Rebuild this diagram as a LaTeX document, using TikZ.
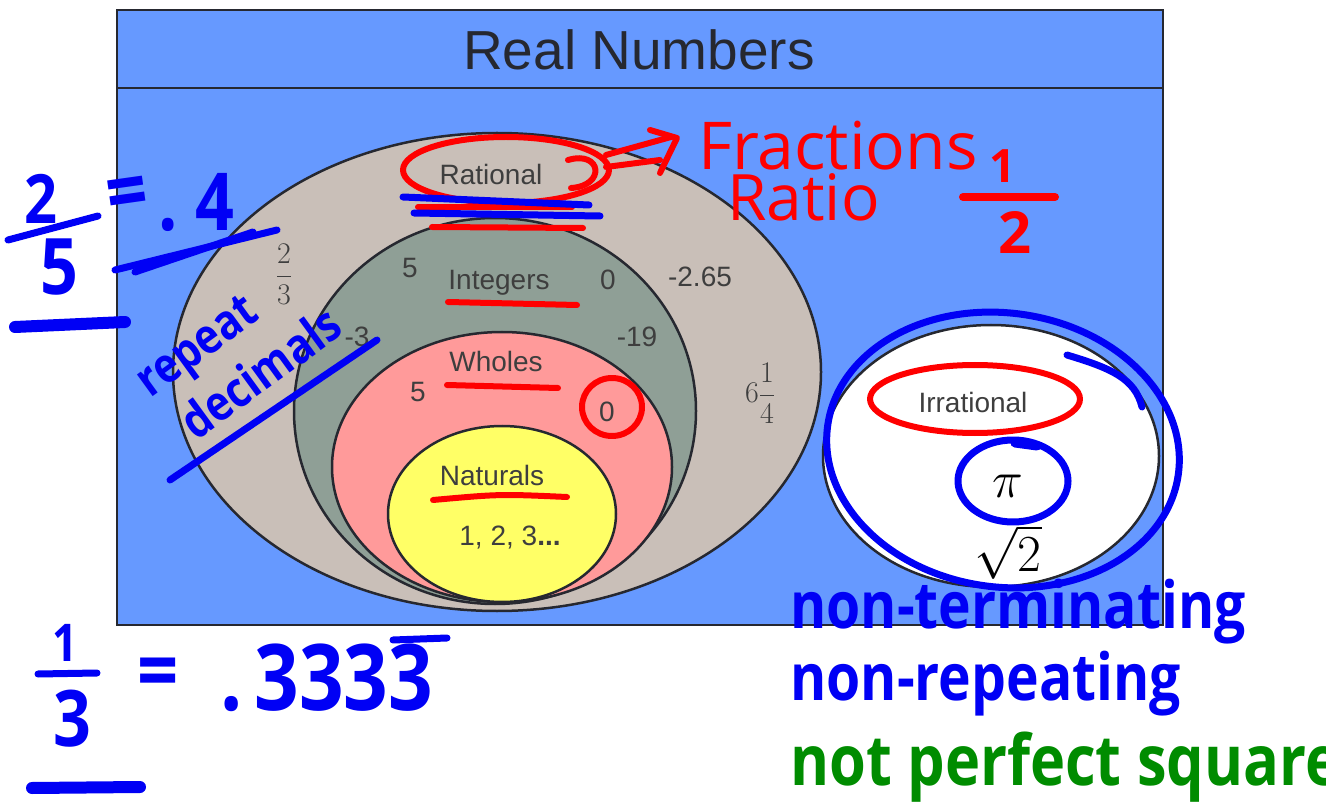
\RequirePackage{fix-cm}
\documentclass[tikz,border=0pt]{standalone}
\usepackage{amsmath}
\usepackage[no-math]{fontspec}
\setmainfont{Liberation Sans}
\newfontfamily\handfont{Open Sans}[FakeStretch=0.85]
\newfontfamily\penfont{Open Sans}

\definecolor{realblue}{RGB}{102,153,255}
\definecolor{ratgrey}{RGB}{201,191,184}
\definecolor{intgrey}{RGB}{143,159,150}
\definecolor{wholepink}{RGB}{255,154,154}
\definecolor{natyellow}{RGB}{255,255,102}
\definecolor{edgegrey}{RGB}{38,40,48}
\definecolor{labelgrey}{RGB}{62,62,62}
\definecolor{inkblue}{RGB}{0,0,245}
\definecolor{inkred}{RGB}{255,0,0}
\definecolor{inkgreen}{RGB}{0,140,0}

\newcommand{\setsize}[1]{\fontsize{#1}{#1}\selectfont}

\tikzset{
  setline/.style={draw=edgegrey, line width=2.5pt},
  setname/.style={text=labelgrey, font=\setsize{28}, anchor=base, inner sep=0pt},
  setmath/.style={text=labelgrey, font=\setsize{30}, inner sep=0pt},
  inkline/.style={line width=#1, line cap=round, line join=round},
  blueink/.style={draw=inkblue, inkline=7pt},
  redink/.style={draw=inkred, inkline=6pt},
  bluehand/.style={text=inkblue, font=\handfont\bfseries\setsize{#1}, inner sep=0pt},
  redhand/.style={text=inkred, font=\penfont\setsize{#1}, inner sep=0pt},
  redbold/.style={text=inkred, font=\penfont\bfseries\setsize{#1}, inner sep=0pt},
  greenhand/.style={text=inkgreen, font=\handfont\bfseries\setsize{#1}, inner sep=0pt},
}

\begin{document}
\begin{tikzpicture}[x=1pt, y=-1pt]

    % Page
    \useasboundingbox (0,0) rectangle (1326,810);
    \clip (0,0) rectangle (1326,810);
    \fill[white] (0,0) rectangle (1326,810);

    % Real numbers box
    \filldraw[setline, fill=realblue] (117,10) rectangle (1163,625);
    \draw[setline] (117,88) -- (1163,88);
    \node[text=edgegrey, font=\setsize{55}, anchor=base, inner sep=0pt] (real) at (639,70) {Real Numbers};

    % Nested sets
    \filldraw[setline, fill=ratgrey] (497,372) ellipse [x radius=324pt, y radius=239pt];
    \filldraw[setline, fill=intgrey] (495,411) ellipse [x radius=201pt, y radius=193pt];
    \filldraw[setline, fill=wholepink] (502,467) ellipse [x radius=170pt, y radius=135pt];
    \filldraw[setline, fill=natyellow] (502,514) ellipse [x radius=114pt, y radius=88pt];

    % Irrationals
    \filldraw[setline, fill=white] (991,456) ellipse [x radius=168pt, y radius=131pt];

    % Set names
    \node[setname] (rational) at (491,185) {Rational};
    \node[setname] (integers) at (499,290) {Integers};
    \node[setname] (wholes) at (496,372) {Wholes};
    \node[setname] (naturals) at (492,485) {Naturals};
    \node[setname] (irrational) at (973,412) {Irrational};

    % Members
    \node[setname] (counting) at (510,545) {1, 2, 3\textbf{...}};
    \node[setname] (intfive) at (410,278) {5};
    \node[setname] (intzero) at (608,290) {0};
    \node[setname] (decimal) at (700,287) {-2.65};
    \node[setname] (negthree) at (357,347) {-3};
    \node[setname] (negnineteen) at (637,347) {-19};
    \node[setname] (wholefive) at (418,402) {5};
    \node[setname] (wholezero) at (607,421) {0};
    \node[setmath] (twothirds) at (284,274) {$\displaystyle\frac{2}{3}$};
    \node[setmath] (mixed) at (760,393) {$\displaystyle 6\frac{1}{4}$};
    \node[text=black, font=\setsize{52}, inner sep=0pt] (pi) at (1008,486) {$\pi$};
    \node[text=black, font=\setsize{52}, inner sep=0pt] (roottwo) at (1008,552) {$\sqrt{2}$};

    % Notes: rational
    \draw[redink] (506,170) ellipse [x radius=103pt, y radius=33pt];
    \draw[redink] (568,160) .. controls (602,150) and (606,186) .. (571,188);
    \draw[redink] (418,207) -- (572,207);
    \draw[blueink] (403,197) -- (589,205);
    \draw[blueink] (414,213) -- (600,216);
    \draw[redink] (432,227) -- (583,228);
    \draw[redink] (448,302) -- (577,305);
    \draw[redink] (447,385) -- (558,388);
    \draw[redink] (433,500) .. controls (500,494) .. (567,497);
    \draw[redink] (612,407) ellipse [x radius=30pt, y radius=29pt];

    \coordinate (arrowtail) at (606,161);
    \coordinate (arrowtip) at (677,138);
    \draw[redink] ([yshift=6pt]arrowtail) -- ([xshift=-6pt,yshift=1pt]arrowtip);
    \draw[redink] ([yshift=-6pt]arrowtail) -- ([xshift=-17pt,yshift=-22pt]arrowtip);
    \draw[redink] ([xshift=-27pt,yshift=8pt]arrowtip) -- (arrowtip)
        -- ([xshift=-17pt,yshift=-35pt]arrowtip);

    \node[redhand=66, anchor=base west] (fractions) at (698,170) {Fractions};
    \node[redhand=64, anchor=base west] (ratio) at (727,221) {Ratio};
    \node[redbold=46] (halfone) at (1003,166) {1};
    \draw[redink, line width=8pt] (963,197) -- (1055,197);
    \node[redbold=58] (halftwo) at (1015,233) {2};

    % Notes: two fifths
    \node[bluehand=68] (fifthtwo) at (41,199) {2};
    \draw[blueink] (8,240) -- (98,216);
    \node[bluehand=78] (fifthfive) at (59,267) {5};
    \draw[blueink, line width=12pt] (15,327) -- (125,322);
    \node[bluehand=85, rotate=8] (fiftheq) at (128,200) {=};
    \node[bluehand=80, anchor=base west] (pointfour) at (158,231) {.\hspace{18pt}4};
    \draw[blueink] (115,270) -- (277,230);
    \draw[blueink] (135,272) -- (253,232);

    % Notes: repeating decimals
    \node[bluehand=49, rotate=36] (repeat) at (200,350) {repeat};
    \node[bluehand=49, rotate=36] (decimals) at (260,372) {decimals};
    \draw[blueink] (170,480) -- (377,340);

    % Notes: one third
    \node[bluehand=52] (thirdone) at (65,643) {1};
    \draw[blueink] (38,674) -- (97,673);
    \node[bluehand=78] (thirdthree) at (72,719) {3};
    \draw[blueink, line width=12pt] (32,788) -- (140,787);
    \node[bluehand=85] (thirdeq) at (158,679) {=};
    \node[bluehand=92, anchor=base west] (repeating) at (220,710) {.\hspace{12pt}3333};
    \draw[blueink] (393,640) -- (447,638);

    % Notes: irrational
    \draw[redink] (975,399) ellipse [x radius=105pt, y radius=34pt];
    \draw[blueink] (1013,481) ellipse [x radius=55pt, y radius=41pt];
    \draw[blueink, line width=9pt] (1015,443) -- (1037,446);
    \draw[blueink, rotate around={-8:(1003,450)}] (1003,450) ellipse [x radius=177pt, y radius=137pt];
    \draw[blueink] (1067,355) .. controls (1110,368) and (1135,378) .. (1142,407);

    \node[bluehand=65, anchor=base west] (nonterm) at (790,628) {non-terminating};
    \node[bluehand=65, anchor=base west] (nonrep) at (790,700) {non-repeating};
    \node[greenhand=70, anchor=base west] (notsquare) at (790,785) {not perfect squares};

\end{tikzpicture}
\end{document}
